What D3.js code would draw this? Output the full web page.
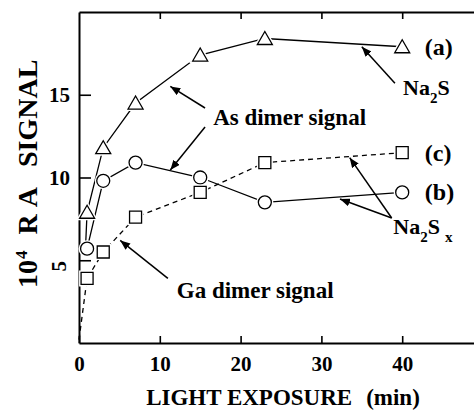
<!DOCTYPE html>
<html>
<head>
<meta charset="utf-8">
<script src="https://cdn.jsdelivr.net/npm/d3@7"></script>
<style>
  body { margin: 0; background: #fff; }
</style>
</head>
<body>
<script>
// exposure times (min) and the three RA signals (x 10^4)
var times = [1, 3, 7, 15, 23, 40];
var na2sAs = [7.9, 11.8, 14.5, 17.4, 18.4, 17.9];     // (a) triangles
var na2sxAs = [5.7, 9.8, 10.9, 10.0, 8.5, 9.1];       // (b) circles
var na2sxGa = [3.9, 5.5, 7.6, 9.1, 10.9, 11.5];       // (c) squares, dashed
var seriesLabels = ["(a)", "(b)", "(c)"];
// unmarked starting points of the curves
var startA = [0.8, 5.7];
var startC = [0, 0.2];
var xTicks = [0, 10, 20, 30, 40];
var yTicks = [5, 10, 15];

var width = 474, height = 410;
var svg = d3.select("body").append("svg")
  .attr("width", width)
  .attr("height", height);

var x = d3.scaleLinear().domain([0, 50]).range([79, 483]);
var y = d3.scaleLinear().domain([0, 20]).range([343, 12]);

function serif(sel, size) {
  return sel.style("font-family", "Liberation Serif")
    .style("font-weight", "bold")
    .style("font-size", size + "px")
    .attr("fill", "#000");
}

// arrowhead
svg.append("defs").append("marker")
  .attr("id", "head")
  .attr("viewBox", "0 0 10 8")
  .attr("refX", 10).attr("refY", 4)
  .attr("markerWidth", 10).attr("markerHeight", 8)
  .attr("markerUnits", "userSpaceOnUse")
  .attr("orient", "auto")
  .append("path").attr("d", "M0,0L10,4L0,8Z").attr("fill", "#000");

// axes: ticks all point inwards
svg.append("g")
  .attr("transform", "translate(0," + y(0) + ")")
  .call(d3.axisBottom(x).tickValues(xTicks).tickSize(-7).tickSizeOuter(0).tickPadding(13));
svg.append("g")
  .attr("transform", "translate(0," + y(20) + ")")
  .call(d3.axisTop(x).tickValues(xTicks.slice(1)).tickSize(-7).tickSizeOuter(0).tickFormat(""));
// "5" is drawn separately below, it lies on its side in the original
svg.append("g")
  .attr("transform", "translate(" + x(0) + ",0)")
  .call(d3.axisLeft(y).tickValues(yTicks).tickSize(-12).tickSizeOuter(0).tickPadding(9)
    .tickFormat(function (d) { return d === 5 ? "" : d; }));

svg.selectAll(".domain").attr("stroke-width", 2);
svg.selectAll(".tick line").attr("stroke-width", 1.6);
serif(svg.selectAll(".tick text"), 21);

serif(svg.append("text"), 21)
  .attr("text-anchor", "middle")
  .attr("dy", "0.35em")
  .attr("transform", "translate(" + (x(0) - 20) + "," + (y(5) + 6) + ") rotate(-90)")
  .text(yTicks[0]);

// lines
var line = d3.line()
  .x(function (d) { return x(d[0]); })
  .y(function (d) { return y(d[1]); });

var ptsA = times.map(function (t, i) { return [t, na2sAs[i]]; });
var ptsB = times.map(function (t, i) { return [t, na2sxAs[i]]; });
var ptsC = times.map(function (t, i) { return [t, na2sxGa[i]]; });

svg.append("path").attr("d", line([startA].concat(ptsA)))
  .attr("fill", "none").attr("stroke", "#000").attr("stroke-width", 1.3);
svg.append("path").attr("d", line(ptsB))
  .attr("fill", "none").attr("stroke", "#000").attr("stroke-width", 1.3);
svg.append("path").attr("d", line([startC].concat(ptsC)))
  .attr("fill", "none").attr("stroke", "#000").attr("stroke-width", 1.3)
  .style("stroke-dasharray", "5,4");

// markers (white halo gives the small gap where lines meet them)
var tri = "M0,-7L7.5,6L-7.5,6Z";
var sq = "M-6,-6H6V6H-6Z";
function drawMarks(pts, shape) {
  [["#fff", 4], ["#000", 1.3]].forEach(function (s) {
    svg.append("g").selectAll("g").data(pts).enter()
      .append(shape === "circle" ? "circle" : "path")
      .attr("transform", function (d) { return "translate(" + x(d[0]) + "," + y(d[1]) + ")"; })
      .attr("r", 6.5)
      .attr("d", shape === "tri" ? tri : sq)
      .attr("fill", "#fff")
      .attr("stroke", s[0])
      .attr("stroke-width", s[1]);
  });
}
drawMarks(ptsA, "tri");
drawMarks(ptsB, "circle");
drawMarks(ptsC, "sq");

// series labels next to the last points
var last = times.length - 1;
[[seriesLabels[0], na2sAs[last]], [seriesLabels[1], na2sxAs[last]], [seriesLabels[2], na2sxGa[last]]]
  .forEach(function (d) {
    serif(svg.append("text"), 24)
      .attr("x", x(42.8)).attr("y", y(d[1]) + 8)
      .text(d[0]);
  });

// annotations
function arrow(x1, y1, x2, y2) {
  svg.append("line")
    .attr("x1", x(x1)).attr("y1", y(y1))
    .attr("x2", x(x2)).attr("y2", y(y2))
    .attr("stroke", "#000").attr("stroke-width", 1.5)
    .attr("marker-end", "url(#head)");
}
arrow(39.1, 15.7, 35.0, 17.9);
arrow(38.7, 7.55, 33.5, 11.2);
arrow(38.7, 7.55, 32.3, 8.7);
arrow(15.6, 14.2, 11.3, 15.5);
arrow(15.6, 13.05, 11.3, 10.45);
arrow(11.0, 3.9, 5.1, 6.2);

serif(svg.append("text"), 23).attr("x", x(16.6)).attr("y", y(13.2)).text("As dimer signal");
serif(svg.append("text"), 23).attr("x", x(12.1)).attr("y", y(2.7)).text("Ga dimer signal");

var na2s = serif(svg.append("text"), 22).attr("x", x(40.1)).attr("y", y(15.0));
na2s.append("tspan").text("Na");
na2s.append("tspan").attr("dy", 8).style("font-size", "15px").text("2");
na2s.append("tspan").attr("dy", -8).text("S");

var na2sx = serif(svg.append("text"), 22).attr("x", x(38.9)).attr("y", y(6.6));
na2sx.append("tspan").text("Na");
na2sx.append("tspan").attr("dy", 8).style("font-size", "15px").text("2");
na2sx.append("tspan").attr("dy", -8).text("S");
na2sx.append("tspan").attr("dy", 8).attr("dx", 5).style("font-size", "15px").text("x");

// axis titles
var xt = serif(svg.append("text"), 23)
  .attr("x", 283).attr("y", 405)
  .attr("text-anchor", "middle");
xt.append("tspan").text("LIGHT EXPOSURE");
xt.append("tspan").attr("dx", 14).text("(min)");

var yt = serif(svg.append("text"), 28)
  .attr("transform", "translate(37,288) rotate(-90)");
yt.append("tspan").text("10");
yt.append("tspan").attr("dy", -10).attr("dx", 1).style("font-size", "17px").text("4");
yt.append("tspan").attr("dy", 10).attr("dx", 16).text("R");
yt.append("tspan").attr("dx", 7).text("A");
yt.append("tspan").attr("dx", 20).text("SIGNAL");
</script>
</body>
</html>
